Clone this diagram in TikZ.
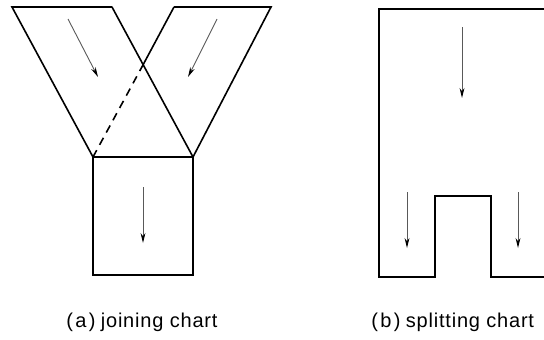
\documentclass[tikz,border=0pt]{standalone}
\usepackage{fontspec}
\setmainfont{Liberation Sans}
\newfontfamily\capfont[LetterSpace=4]{Liberation Sans}
\usetikzlibrary{arrows.meta}
\newcommand\parlbl[1]{(\hspace{1.2pt}#1\hspace{1.2pt})\hspace{2.6pt}}

\begin{document}
\begin{tikzpicture}[x=0.5pt,y=-0.5pt,
    wall/.style={line width=0.8pt,line join=miter},
    flow/.style={draw=black!65,line width=0.45pt,-{Stealth[length=5pt,width=2.4pt,black]}},
    caption/.style={anchor=base west,inner sep=0pt,font=\capfont\fontsize{10}{12}\selectfont}]
  \useasboundingbox (0,0) rectangle (544,339);
  % joining chart
  \coordinate (lt1) at (12,7);   \coordinate (lt2) at (112,7);
  \coordinate (rt1) at (174,7);  \coordinate (rt2) at (271,7);
  \coordinate (jl) at (93,157);  \coordinate (jr) at (193,157);
  \coordinate (x) at (143.5,64);
  \draw[wall] (lt2) -- (lt1) -- (jl) -- (93,275) -- (193,275) -- (jr) -- (lt2);
  \draw[wall] (rt1) -- (rt2) -- (jr) -- (jl);
  \draw[wall] (rt1) -- (x);
  \draw[wall,dashed,dash pattern=on 4pt off 3pt] (x) -- (jl);
  \draw[flow] (68,19) -- (98,77);
  \draw[flow] (217,19) -- (188,77);
  \draw[flow] (143,187) -- (143,243);
  \node[caption] (ja) at (66,327) {\parlbl{a}joining chart};
  % splitting chart
  \draw[wall] (545,9) -- (379,9) -- (379,277) -- (435,277) -- (435,196)
    -- (491,196) -- (491,277) -- (545,277);
  \draw[flow] (462,27) -- (462,98);
  \draw[flow] (407,192) -- (407,248);
  \draw[flow] (518,192) -- (518,248);
  \node[caption] (sb) at (371,327) {\parlbl{b}splitting chart};
\end{tikzpicture}
\end{document}
